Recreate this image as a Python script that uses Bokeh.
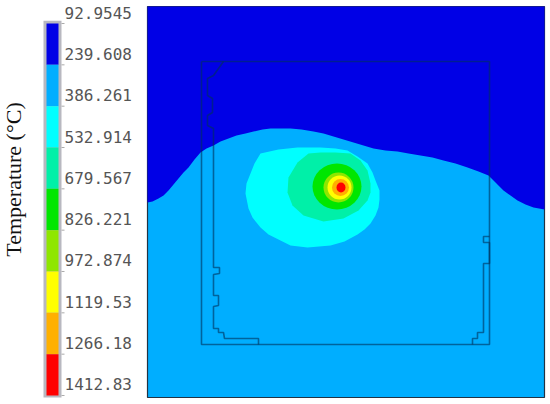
from bokeh.plotting import figure
from bokeh.models import Range1d, LinearAxis
from bokeh.core.properties import value
from bokeh.embed import file_html
from bokeh.resources import INLINE

# Legend levels and band colours
levels = [92.9545, 239.608, 386.261, 532.914, 679.567, 826.221, 972.874, 1119.53, 1266.18, 1412.83]
level_labels = ["92.9545", "239.608", "386.261", "532.914", "679.567", "826.221", "972.874", "1119.53", "1266.18", "1412.83"]
band_colors = ["#0000e6", "#00aeff", "#00ffff", "#00f0a8", "#00e600", "#8fe600", "#ffff00", "#ffb000", "#ff0000"]

# Temperature field: domain and contour outlines (image-space units)
domain_x = [147, 544]
domain_y = [6, 397]
cold_x = [147, 152, 158, 163, 168, 173, 178, 183, 188, 194, 200, 206, 213, 220, 228, 236, 245, 253, 262, 270, 280, 290, 301, 313, 323, 333, 343, 353, 363, 373, 385, 397, 408, 420, 432, 443, 455, 467, 478, 488, 496, 503, 510, 517, 525, 533, 544]
cold_y = [202, 201, 198, 195, 190, 184, 178, 172, 167, 159, 152, 148, 145, 141, 138, 135, 133, 131, 129, 128, 128, 128, 129, 131, 133, 136, 139, 142, 145, 148, 150, 151, 153, 155, 157, 160, 163, 167, 171, 175, 183, 190, 195, 200, 204, 207, 209]
cyan_x = [260, 278, 297, 320, 335, 347, 357, 367, 372, 375, 379, 379, 378, 375, 370, 364, 357, 344, 330, 307, 290, 280, 268, 260, 252, 248, 245, 246, 250, 254]
cyan_y = [153, 149, 147, 147, 148, 150, 156, 163, 172, 180, 190, 199, 207, 215, 223, 229, 234, 241, 245, 247, 245, 240, 234, 227, 217, 208, 193, 183, 173, 163]
teal_x = [308, 320, 335, 350, 360, 367, 370, 370, 367, 358, 343, 323, 303, 292, 287, 288, 297]
teal_y = [153, 152, 152, 153, 160, 170, 183, 192, 200, 210, 218, 221, 215, 205, 192, 177, 162]

# Hot core: concentric isotherms
core_x = [336.5, 338, 339, 340, 340.5]
core_y = [186, 187, 187, 187, 187]
core_w = [49, 30, 24, 17, 9]
core_h = [46, 30, 24, 17, 10]
core_colors = band_colors[4:]

# Model outline
frame_x = [201, 489, 489, 201, 201]
frame_y = [61, 61, 344, 344, 61]
inner_left_x = [223, 213, 207, 207, 212, 212, 207, 207, 213, 213, 219, 219, 213, 213, 218, 218, 213, 213, 218, 218, 223, 224, 258, 258]
inner_left_y = [61, 75, 78, 95, 98, 112, 115, 125, 128, 267, 267, 273, 274, 295, 295, 305, 306, 328, 328, 332, 332, 338, 338, 344]
inner_right_x = [489, 483, 483, 489, 489, 483, 483, 477, 477, 472, 472]
inner_right_y = [236, 236, 242, 242, 263, 263, 332, 332, 338, 338, 344]

title = "Temperature (°C)"

p = figure(width=550, height=404, output_backend="svg", toolbar_location=None,
           x_range=Range1d(0, 550), y_range=Range1d(404, 0), min_border=0)
p.axis.visible = False
p.grid.visible = False
p.outline_line_color = None
p.background_fill_color = "white"
p.border_fill_color = "white"

# Temperature scale used by the colour legend
p.extra_y_ranges = {"temp": Range1d(1444.8, 11.3)}
hidden = LinearAxis(y_range_name="temp", visible=False)
p.add_layout(hidden, "right")

# Legend bar
p.quad(left=[43], right=[61], top=[levels[0] - 10], bottom=[levels[-1] + 7], fill_color="#b8b8c0",
       line_color=None, y_range_name="temp")
p.quad(left=[46] * 9, right=[58] * 9, top=levels[:-1], bottom=levels[1:], fill_color=band_colors,
       line_color=None, y_range_name="temp")
p.segment(x0=[61] * 10, x1=[64] * 10, y0=levels, y1=levels, line_color="#aaaaaa", line_width=1, y_range_name="temp")
p.text(x=[64] * 10, y=levels, text=level_labels, text_font=value("DejaVu Sans Mono"), text_font_size="16px",
       text_color="#555555", text_baseline="middle", text_align="left", y_offset=-11, y_range_name="temp")
p.text(x=[13], y=[179], text=[title], angle=1.5708, text_font=value("Liberation Serif"), text_font_size="22px",
       text_color="#111111", text_align="center", text_baseline="alphabetic")

# Field
p.quad(left=[domain_x[0]], right=[domain_x[1]], top=[domain_y[0]], bottom=[domain_y[1]],
       fill_color=band_colors[1], line_color="#223344", line_width=1.2)
cx = [domain_x[0]] + cold_x + [domain_x[1]]
cy = [domain_y[0]] + cold_y + [domain_y[0]]
p.patch(cx, cy, fill_color=band_colors[0], line_color=None)
p.patch(cyan_x, cyan_y, fill_color=band_colors[2], line_color=None)
p.patch(teal_x, teal_y, fill_color=band_colors[3], line_color=None)
p.ellipse(x=core_x, y=core_y, width=core_w, height=core_h, fill_color=core_colors, line_color=None)

# Outline
for xs, ys in [(frame_x, frame_y), (inner_left_x, inner_left_y), (inner_right_x, inner_right_y)]:
    p.line(xs, ys, line_color="#00305a", line_alpha=0.6, line_width=1.6)

open("out.html", "w").write(file_html(p, INLINE))
